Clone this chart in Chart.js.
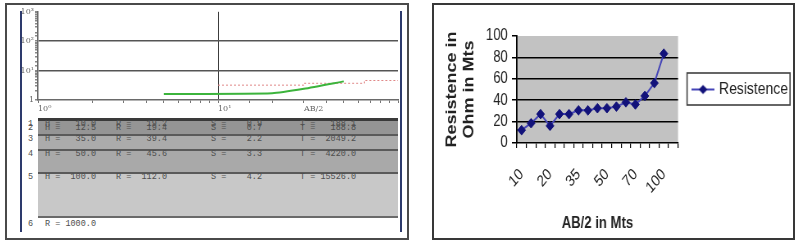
<!DOCTYPE html>
<html><head><meta charset="utf-8">
<script src="https://cdn.jsdelivr.net/npm/chart.js@4.4.1/dist/chart.umd.min.js"></script>
<style>
html,body{margin:0;padding:0;background:#fff;}
body{width:797px;height:244px;overflow:hidden;position:relative;font-family:'Liberation Sans',Arial,sans-serif;}
.abs{position:absolute;box-sizing:border-box;}
#leftBox{left:5px;top:3px;width:404px;height:237px;border:2px solid #4a4a4a;}
#rightBox{left:432px;top:3px;width:363px;height:237px;border:2px solid #383838;}
.navy{background:#2d3a6c;width:2px;top:11px;height:221px;}
.band{left:38px;width:360px;}
.txt{font-family:'Liberation Mono','DejaVu Sans Mono',monospace;font-size:8.5px;color:#4e4e4e;white-space:pre;line-height:9px;}
#rightChart{transform:scaleX(0.82);transform-origin:0 0;}
</style>
</head><body>
<div id="leftBox" class="abs"></div>
<div id="rightBox" class="abs"></div>
<div class="abs navy" style="left:20px"></div>
<div class="abs navy" style="left:400px"></div>

<div class="abs band" style="top:118px;height:3px;background:#3a3a3a"></div>
<div class="abs band" style="top:121px;height:13px;background:#959595"></div>
<div class="abs band" style="top:134px;height:1.5px;background:#5a5a5a"></div>
<div class="abs band" style="top:135.5px;height:13.5px;background:#ababab"></div>
<div class="abs band" style="top:149px;height:1.5px;background:#5a5a5a"></div>
<div class="abs band" style="top:150.5px;height:21.5px;background:#a9a9a9"></div>
<div class="abs band" style="top:172px;height:2px;background:#5a5a5a"></div>
<div class="abs band" style="top:174px;height:42px;background:#c8c8c8"></div>
<div class="abs band" style="top:216px;height:2px;background:#6a6a6a"></div>
<div id="tableText"></div>

<canvas id="leftChart" class="abs" width="378" height="112" style="left:22px;top:6px;width:378px;height:112px"></canvas>
<canvas id="rightChart" class="abs" width="437" height="233" style="left:434px;top:5px;width:437px;height:233px"></canvas>

<script>
// ---------- Right chart data (Excel line chart) ----------
const categories = ['10','12','15','20','25','30','35','40','45','50','55','60','70','80','90','100',''];
const resistence = [12,18.5,27,16,27,27,30.5,30.5,32.5,32.5,34,38,36,44,56,83.5,null];
const seriesName = 'Resistence';
const yAxisTitle = ['Resistence in','Ohm in Mts'];
const xAxisTitle = 'AB/2 in Mts';

// ---------- Left panel data (sounding curve screenshot) ----------
const fieldAB2 = [5, 20, 30, 50];
const fieldRho = [1.6, 1.7, 2.4, 4.3];
const modelAB2 = [10, 30, 65, 100];
const modelRho = [3.2, 3.7, 4.6, 4.6];
const leftXTickValues = [1, 10, 30];
const leftXTickLabels = ['10\u2070', '10\u00b9', 'AB/2'];
const leftYTickValues = [1, 10, 100, 1000];
const leftYTickLabels = ['1', '10\u00b9', '10\u00b2', '10\u00b3'];
const layerNo  = ['1','2','3','4','5','6'];
const layerH   = ['10.0','12.5','35.0','50.0','100.0',''];
const layerR   = ['19.2','19.4','39.4','45.6','112.0','1000.0'];
const layerS   = ['0.9','0.7','2.2','3.3','4.2',''];
const layerT   = ['188.1','188.8','2049.2','4220.0','15526.0',''];
const rowTextY = [120, 123.5, 134.5, 149.5, 172.5, 219.5];

(function(){
  const host = document.getElementById('tableText');
  const cols = [[28,(i)=>layerNo[i]],[45,(i)=>layerH[i]?('H = '+layerH[i].padStart(6)):('R = '+layerR[i].padStart(6))],
                [116,(i)=>layerH[i]?('R = '+layerR[i].padStart(6)):''],
                [211,(i)=>layerS[i]?('S = '+layerS[i].padStart(6)):''],
                [300,(i)=>layerT[i]?('T = '+layerT[i].padStart(7)):'']];
  for (let i=0;i<layerNo.length;i++){
    for (const [x,f] of cols){
      const d=document.createElement('div');
      d.className='abs txt';
      d.style.left=x+'px'; d.style.top=rowTextY[i]+'px';
      d.textContent=f(i);
      host.appendChild(d);
    }
  }
})();

const FONT = "'Liberation Sans',Arial,sans-serif";

// legend symbol: line with diamond
const legendImg = document.createElement('canvas');
legendImg.width = 28; legendImg.height = 12;
(function(){
  const c = legendImg.getContext('2d');
  c.strokeStyle = '#4646b8'; c.lineWidth = 2;
  c.beginPath(); c.moveTo(0,6); c.lineTo(28,6); c.stroke();
  c.fillStyle = '#12127a';
  c.beginPath(); c.moveTo(14,1.5); c.lineTo(19.5,6); c.lineTo(14,10.5); c.lineTo(8.5,6); c.closePath(); c.fill();
})();

const plotBg = {
  id: 'plotBg',
  beforeDraw(chart, args, opts) {
    const {ctx, chartArea: a} = chart;
    ctx.save(); ctx.fillStyle = opts.color; ctx.fillRect(a.left, a.top, a.right - a.left, a.bottom - a.top); ctx.restore();
  }
};
const legendBorder = {
  id: 'legendBorder',
  afterDraw(chart) {
    const lg = chart.legend;
    if (!lg || !lg.legendHitBoxes || !lg.legendHitBoxes.length) return;
    const hb = lg.legendHitBoxes[0];
    const ctx = chart.ctx;
    ctx.save(); ctx.strokeStyle = '#404040'; ctx.lineWidth = 1.6;
    ctx.strokeRect(hb.left - 8.5, hb.top - 8, hb.width + 11, hb.height + 15);
    ctx.restore();
  }
};

new Chart(document.getElementById('rightChart'), {
  type: 'line',
  data: {
    labels: categories,
    datasets: [{
      label: seriesName, data: resistence,
      borderColor: '#4646b8', borderWidth: 2, tension: 0,
      pointStyle: 'rectRot', pointRadius: 4.8,
      pointBackgroundColor: '#12127a', pointBorderColor: '#12127a', pointBorderWidth: 1
    }]
  },
  options: {
    responsive: false, animation: false, devicePixelRatio: 1,
    layout: { padding: { top: 31, left: 0, right: 0, bottom: 0 } },
    plugins: {
      plotBg: { color: '#c2c2c2' },
      tooltip: { enabled: false },
      legend: {
        position: 'right', fullSize: false, maxWidth: 139.4, align: 'center',
        labels: { usePointStyle: true, pointStyle: legendImg, pointStyleWidth: 22, padding: 19.5,
                  color: '#222', font: { family: FONT, size: 17 } }
      }
    },
    scales: {
      x: {
        type: 'category', offset: true,
        grid: { display: true, drawOnChartArea: false, drawTicks: true, tickLength: 5, offset: true, color: '#000', tickColor: '#000', lineWidth: 1.2 },
        border: { display: true, color: '#000', width: 1.5 },
        ticks: { autoSkip: false, maxRotation: 45, minRotation: 45, padding: 17, color: '#222',
                 font: { family: FONT, size: 16 },
                 callback: (v, i) => (i % 3 === 0 ? categories[i] : '') },
        title: { display: true, text: xAxisTitle, color: '#222', font: { family: FONT, size: 16, weight: 'bold', lineHeight: 1 }, padding: { top: 0, bottom: 6 } },
        afterFit: s => { s.height = 95; }
      },
      y: {
        min: 0, max: 100,
        ticks: { stepSize: 20, autoSkip: false, padding: 5, color: '#222', font: { family: FONT, size: 16 } },
        grid: { color: c => (c.tick && (c.tick.value === 0 || c.tick.value === 100)) ? 'rgba(0,0,0,0)' : '#000',
                tickColor: '#000', tickLength: 6, lineWidth: 1.5 },
        border: { display: true, color: '#000', width: 1.8 },
        title: { display: true, text: yAxisTitle, color: '#222', font: { family: FONT, size: 18, weight: 'bold', lineHeight: 1.15 }, padding: { top: 11.6 } },
        afterFit: s => { s.width = 101; }
      }
    }
  },
  plugins: [plotBg, legendBorder]
});

// ---------- Left chart ----------
new Chart(document.getElementById('leftChart'), {
  type: 'line',
  data: {
    datasets: [
      { label: 'field', data: fieldAB2.map((x, i) => ({ x, y: fieldRho[i] })), borderColor: '#3cb43c', borderWidth: 2, pointRadius: 0, tension: 0.2 },
      { label: 'model', data: modelAB2.map((x, i) => ({ x, y: modelRho[i] })), borderColor: '#e08888', borderWidth: 1, borderDash: [2, 2], pointRadius: 0, stepped: true }
    ]
  },
  options: {
    responsive: false, animation: false, devicePixelRatio: 1,
    layout: { padding: { top: 4, left: 0, right: 2, bottom: 0 } },
    plugins: { legend: { display: false }, tooltip: { enabled: false } },
    scales: {
      x: {
        type: 'logarithmic', min: 1, max: 100,
        grid: { color: c => (c.tick && c.tick.value === 10) ? '#3c3c3c' : 'rgba(0,0,0,0)', tickColor: '#777', tickLength: 3, lineWidth: 1 },
        border: { display: true, color: '#6a6a6a', width: 1.5 },
        ticks: { autoSkip: false, maxRotation: 0, align: 'start', padding: 1, color: '#666',
                 font: { family: "'DejaVu Serif',serif", size: 8 },
                 callback: v => { const k = leftXTickValues.indexOf(v); return k >= 0 ? leftXTickLabels[k] : ''; } },
        afterFit: s => { s.height = 18; }
      },
      y: {
        type: 'logarithmic', min: 1, max: 1000,
        grid: { color: c => (c.tick && (c.tick.value === 10 || c.tick.value === 100)) ? '#555' : 'rgba(0,0,0,0)', tickColor: '#888', tickLength: 3, lineWidth: 1.5 },
        border: { display: true, color: '#6a6a6a', width: 1.5 },
        ticks: { autoSkip: false, padding: 1, color: '#666', font: { family: "'DejaVu Serif',serif", size: 8 },
                 callback: v => { const k = leftYTickValues.indexOf(v); return k >= 0 ? leftYTickLabels[k] : ''; } },
        afterFit: s => { s.width = 16; }
      }
    }
  }
});
</script>
</body></html>
